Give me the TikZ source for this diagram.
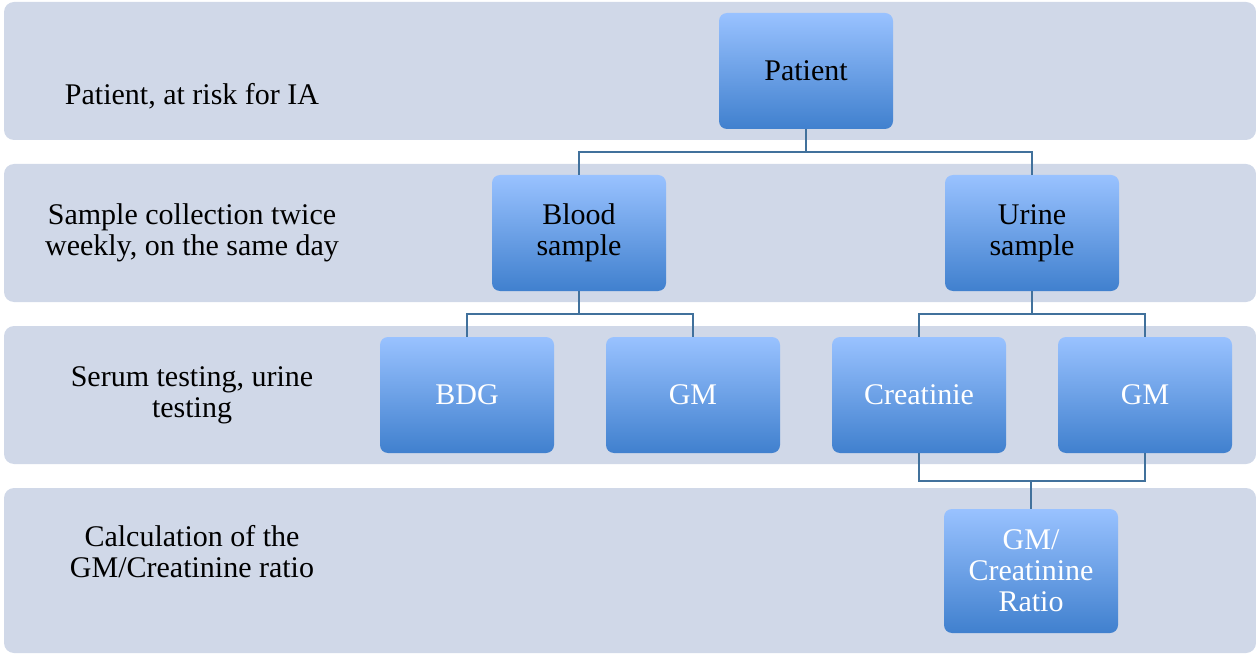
\documentclass[tikz,border=0pt]{standalone}
\usepackage{fontspec}
\setmainfont{Liberation Serif}
\usepackage{tikz}
\definecolor{bandgray}{RGB}{208,216,232}
\definecolor{boxtop}{RGB}{153,194,255}
\definecolor{boxbottom}{RGB}{64,128,206}
\definecolor{linkblue}{RGB}{65,113,156}
\tikzset{
  band/.style={fill=bandgray, draw=none, rounded corners=10pt},
  bandlabel/.style={align=center, text=black, font=\fontsize{30}{31}\selectfont},
  stepbox/.style={rounded corners=8pt, top color=boxtop, bottom color=boxbottom,
    draw=none, minimum width=174pt, minimum height=116pt, align=center,
    font=\fontsize{30}{31}\selectfont},
  link/.style={draw=linkblue, line width=2pt}
}

\begin{document}
\begin{tikzpicture}[x=1pt, y=-1pt]
        \useasboundingbox (0,0) rectangle (1256,655);

        % bands
        \foreach \top/\bot in {2/140, 164/302, 326/464, 488/653}
        {
          \fill[band] (4,\top) rectangle (1256,\bot);
        }

        \node[bandlabel] (l0) at (192,96) {Patient, at risk for IA};
        \node[bandlabel] (l1) at (192,233) {Sample collection twice\\weekly, on the same day};
        \node[bandlabel] (l2) at (192,395) {Serum testing, urine\\testing};
        \node[bandlabel] (l3) at (192,552) {Calculation of the\\GM/Creatinine ratio};

        % boxes
        \node[stepbox, text=black] (patient) at (806,71) {Patient};
        \node[stepbox, text=black] (blood) at (579,233) {Blood\\sample};
        \node[stepbox, text=black] (urine) at (1032,233) {Urine\\sample};
        \node[stepbox, text=white] (bdg) at (467,395) {BDG};
        \node[stepbox, text=white] (gms) at (693,395) {GM};
        \node[stepbox, text=white] (crea) at (919,395) {Creatinie};
        \node[stepbox, text=white] (gmu) at (1145,395) {GM};
        \node[stepbox, text=white, minimum height=124pt] (ratio) at (1031,571) {GM/\\Creatinine\\Ratio};

        \coordinate (j0) at (806,152);
        \coordinate (j1) at (579,314);
        \coordinate (j2) at (1032,314);
        \coordinate (j3) at (1031,481);

        \draw[link]
          (patient.south) -- (j0) -| (blood.north)
          (j0) -| (urine.north)
          (blood.south) -- (j1) -| (bdg.north)
          (j1) -| (gms.north)
          (urine.south) -- (j2) -| (crea.north)
          (j2) -| (gmu.north)
          (crea.south) |- (j3)
          (gmu.south) |- (j3)
          (j3) -- (ratio.north);
      \end{tikzpicture}
\end{document}
